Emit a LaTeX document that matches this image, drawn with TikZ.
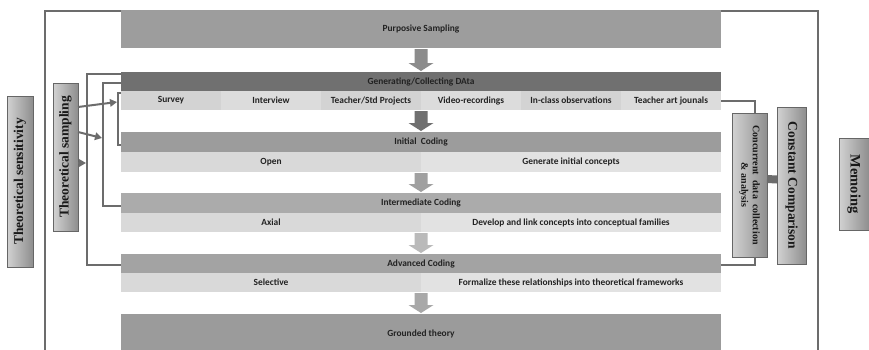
\documentclass[tikz,border=0pt]{standalone}
\usepackage{fontspec}
\setmainfont{Liberation Serif}
\newfontfamily\carl{Carlito}
\usetikzlibrary{calc,arrows.meta}

\definecolor{lineg}{HTML}{6C6C6C}
\definecolor{psfill}{HTML}{9D9D9D}
\definecolor{genfill}{HTML}{707070}
\definecolor{inifill}{HTML}{9C9C9C}
\definecolor{midfill}{HTML}{ABABAB}
\definecolor{advfill}{HTML}{A3A3A3}
\definecolor{gtfill}{HTML}{9B9B9B}
\definecolor{cellA}{HTML}{DCDCDC}
\definecolor{cellB}{HTML}{D3D3D3}
\definecolor{rowL}{HTML}{D9D9D9}
\definecolor{rowR}{HTML}{E2E2E2}
\definecolor{arrA}{HTML}{8C8C8C}
\definecolor{arrB}{HTML}{707070}
\definecolor{arrC}{HTML}{A0A0A0}
\definecolor{arrD}{HTML}{BABABA}
\definecolor{arrE}{HTML}{A8A8A8}
\definecolor{boxlight}{HTML}{D2D2D2}
\definecolor{boxdark}{HTML}{8E8E8E}
\definecolor{inktext}{HTML}{222222}

% block arrow pointing down from point #1 to point #2
\newcommand\flowarrow[3]{%
  \fill[#3] ($(#1)+(-6.5,1)$) -- ($(#1)+(6.5,1)$) -- ($(#2)+(6.5,-9)$)
    -- ($(#2)+(12.5,-9)$) -- ($(#2)+(0,-1)$) -- ($(#2)+(-12.5,-9)$)
    -- ($(#2)+(-6.5,-9)$) -- cycle;}

\tikzset{
  bar/.style={draw=none, inner sep=0pt, outer sep=0pt, anchor=north west,
    text=inktext, font=\carl\bfseries\fontsize{9.4}{11}\selectfont},
  vbox/.style={draw=black!60, line width=0.6pt, inner sep=0pt, outer sep=0pt,
    anchor=north west, left color=boxlight, right color=boxdark},
  vlabel/.style={inner sep=0pt, text=black!90, align=center,
    font=\bfseries\fontsize{13.5}{15}\selectfont},
  link/.style={draw=lineg, line width=2pt},
  linkarrow/.style={link, -{Triangle[length=7pt,width=7.5pt]}},
}

\begin{document}
\begin{tikzpicture}[x=1pt,y=-1pt]
\useasboundingbox (0,0) rectangle (869,349);
\fill[white] (0,0) rectangle (869,349);
\clip (0,0) rectangle (869,349);

% main process column
\node[bar, fill=psfill, minimum width=600pt, minimum height=38pt] (ps) at (121,10) {Purposive Sampling};

\node[bar, fill=genfill, minimum width=600pt, minimum height=19pt] (gen) at (121,72) {Generating/Collecting DAta};
\node[bar, fill=cellB, minimum width=100pt, minimum height=19pt] (c1) at (121,91) {Survey};
\node[bar, fill=cellA, minimum width=100pt, minimum height=19pt] (c2) at (221,91) {Interview};
\node[bar, fill=cellB, minimum width=100pt, minimum height=19pt] (c3) at (321,91) {Teacher/Std Projects};
\node[bar, fill=cellA, minimum width=100pt, minimum height=19pt] (c4) at (421,91) {Video-recordings};
\node[bar, fill=cellB, minimum width=100pt, minimum height=19pt] (c5) at (521,91) {In-class observations};
\node[bar, fill=cellA, minimum width=100pt, minimum height=19pt] (c6) at (621,91) {Teacher art jounals};

\node[bar, fill=inifill, minimum width=600pt, minimum height=20pt] (ini) at (121,132) {Initial\ \ Coding};
\node[bar, fill=rowL, minimum width=300pt, minimum height=20pt] (ini1) at (121,152) {Open};
\node[bar, fill=rowR, minimum width=300pt, minimum height=20pt] (ini2) at (421,152) {Generate initial concepts};

\node[bar, fill=midfill, minimum width=600pt, minimum height=20pt] (mid) at (121,193) {Intermediate Coding};
\node[bar, fill=rowL, minimum width=300pt, minimum height=19pt] (mid1) at (121,213) {Axial};
\node[bar, fill=rowR, minimum width=300pt, minimum height=19pt] (mid2) at (421,213) {Develop and link concepts into conceptual families};

\node[bar, fill=advfill, minimum width=600pt, minimum height=19pt] (adv) at (121,254) {Advanced Coding};
\node[bar, fill=rowL, minimum width=300pt, minimum height=19pt] (adv1) at (121,273) {Selective};
\node[bar, fill=rowR, minimum width=300pt, minimum height=19pt] (adv2) at (421,273) {Formalize these relationships into theoretical frameworks};

\node[bar, fill=gtfill, minimum width=600pt, minimum height=40pt] (gt) at (121,314) {Grounded theory};

% flow arrows
\flowarrow{ps.south}{gen.north}{arrA}
\flowarrow{c3.south east}{ini.north}{arrB}
\flowarrow{ini1.south east}{mid.north}{arrC}
\flowarrow{mid1.south east}{adv.north}{arrD}
\flowarrow{adv1.south east}{gt.north}{arrE}

% side boxes
\node[vbox, minimum width=26pt, minimum height=171pt] (tsen) at (7,96) {};
\node[vlabel, rotate=90] (tsenl) at (tsen.center) {Theoretical sensitivity};
\node[vbox, minimum width=25pt, minimum height=148pt] (tsam) at (53,83) {};
\node[vlabel, rotate=90] (tsaml) at (tsam.center) {Theoretical sampling};
\node[vbox, minimum width=35pt, minimum height=144pt] (cc) at (732,113) {};
\node[vlabel, rotate=-90, font=\bfseries\fontsize{10}{11.5}\selectfont] (ccl) at (cc.center) {Concurrent\ \ data\ \ collection\\\&\ analysis};
\node[vbox, minimum width=29pt, minimum height=157pt] (con) at (777,107) {};
\node[vlabel, rotate=-90] (conl) at (con.center) {Constant Comparison};
\node[vbox, minimum width=30pt, minimum height=92pt] (mem) at (839,138) {};
\node[vlabel, rotate=-90, font=\bfseries\fontsize{14.5}{16}\selectfont] (meml) at (mem.center) {Memoing};

% outer frame lines
\coordinate (outerL) at (45,360);
\coordinate (outerR) at (818,360);
\draw[link] ($(ps.north west)+(0,1)$) -| (outerL);
\draw[link] ($(ps.north east)+(0,0.5)$) -| (outerR);

% sampling loops on the left
\draw[link] ($(gen.north west)+(0,1.5)$) -- ++(-34,0) |- ($(adv.west)+(0,1.5)$);
\draw[link] ($(gen.west)+(0,1.5)$) -- ++(-18,0) |- ($(mid.west)+(0,3)$);
\draw[link] ($(c1.north west)+(0,2)$) -- ++(-3,0) |- ($(ini.west)+(0,3)$);

\coordinate (loopA) at (117,102);
\coordinate (loopB) at (102,138);
\coordinate (loopC) at (86,163);
\draw[linkarrow] ($(tsam.north east)+(0,24)$) -- (loopA);
\draw[linkarrow] ($(tsam.north east)+(0,49)$) -- (loopB);
\draw[linkarrow] ($(tsam.north east)+(0,80)$) -- (loopC);

% concurrent collection loop on the right
\draw[link] (c6.east) -| ($(cc.north)+(5,0)$);
\draw[link] ($(cc.south)+(5,0)$) |- ($(adv.east)+(0,1.5)$);
\draw[draw=lineg, line width=8pt] ($(cc.east)+(0,-6)$) -- ($(con.west)+(0,-6)$);
\end{tikzpicture}
\end{document}
